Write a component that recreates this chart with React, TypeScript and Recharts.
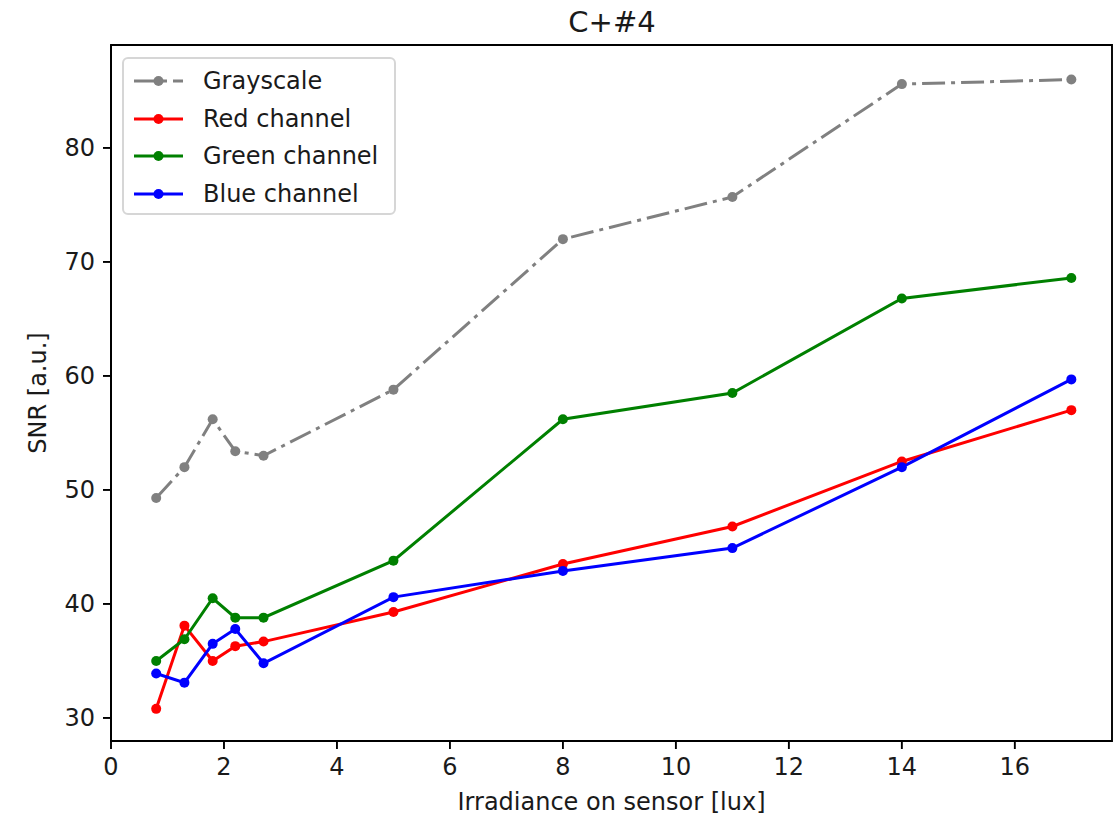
import React from 'react';
import { LineChart, Line, XAxis, YAxis, ReferenceArea } from 'recharts';

const xValues = [0.8, 1.3, 1.8, 2.2, 2.7, 5, 8, 11, 14, 17];
const grayscale = [49.3, 52.0, 56.2, 53.4, 53.0, 58.8, 72.0, 75.7, 85.6, 86.0];
const redChannel = [30.8, 38.1, 35.0, 36.3, 36.7, 39.3, 43.5, 46.8, 52.5, 57.0];
const greenChannel = [35.0, 36.9, 40.5, 38.8, 38.8, 43.8, 56.2, 58.5, 66.8, 68.6];
const blueChannel = [33.9, 33.1, 36.5, 37.8, 34.8, 40.6, 42.9, 44.9, 52.0, 59.7];

const xTicks = [0, 2, 4, 6, 8, 10, 12, 14, 16];
const yTicks = [30, 40, 50, 60, 70, 80];
const xDomain: [number, number] = [0, 17.72];
const yDomain: [number, number] = [27.98, 89.03];

const seriesInfo = [
  { key: 'gray', name: 'Grayscale', color: '#808080', dash: '23 6 4 6' },
  { key: 'red', name: 'Red channel', color: '#ff0000', dash: undefined },
  { key: 'green', name: 'Green channel', color: '#008000', dash: undefined },
  { key: 'blue', name: 'Blue channel', color: '#0000ff', dash: undefined },
];

const data = xValues.map((x, i) => ({
  x,
  gray: grayscale[i],
  red: redChannel[i],
  green: greenChannel[i],
  blue: blueChannel[i],
}));

const FONT = '"DejaVu Sans", sans-serif';
const TEXT = '#1a1a1a';

const YLabel = (props: any) => {
  const vb = props.viewBox || { x: 0, y: 45, width: 111, height: 696 };
  const cx = 38;
  const cy = vb.y + vb.height / 2;
  return (
    <text
      x={cx}
      y={cy}
      transform={`rotate(-90 ${cx} ${cy})`}
      textAnchor="middle"
      dominantBaseline="central"
      fontFamily={FONT}
      fontSize={24}
      fill={TEXT}
    >
      SNR [a.u.]
    </text>
  );
};

const XLabel = (props: any) => {
  const vb = props.viewBox || { x: 111, y: 741, width: 1001, height: 77 };
  return (
    <text
      x={vb.x + vb.width / 2}
      y={810}
      textAnchor="middle"
      fontFamily={FONT}
      fontSize={24}
      fill={TEXT}
    >
      Irradiance on sensor [lux]
    </text>
  );
};

const LegendBox = () => (
  <div
    style={{
      position: 'absolute',
      left: 122,
      top: 57,
      width: 274,
      height: 158,
      boxSizing: 'border-box',
      border: '2px solid #d6d6d6',
      borderRadius: 6,
      background: 'rgba(255,255,255,0.8)',
      fontFamily: FONT,
      fontSize: 24,
      color: TEXT,
    }}
  >
    {seriesInfo.map((s, i) => (
      <div
        key={s.key}
        style={{
          position: 'absolute',
          left: 9,
          top: 22 + i * 37.7 - 16,
          height: 32,
          display: 'flex',
          alignItems: 'center',
          whiteSpace: 'nowrap',
        }}
      >
        <svg width={50} height={32} style={{ display: 'block' }}>
          <line
            x1={1}
            y1={16}
            x2={50}
            y2={16}
            stroke={s.color}
            strokeWidth={3}
            strokeDasharray={s.dash}
          />
          <circle cx={25.5} cy={16} r={5} fill={s.color} />
        </svg>
        <span style={{ marginLeft: 20, lineHeight: '32px' }}>{s.name}</span>
      </div>
    ))}
  </div>
);

export default function App() {
  return (
    <div style={{ position: 'absolute', left: 0, top: 0, width: 1115, height: 818, background: '#fff' }}>
      <div
        style={{
          position: 'absolute',
          left: 612,
          top: 5,
          transform: 'translateX(-50%)',
          fontFamily: FONT,
          fontSize: 29,
          color: TEXT,
          whiteSpace: 'nowrap',
          lineHeight: 'normal',
        }}
      >
        C+#4
      </div>
      <LineChart
        width={1115}
        height={818}
        data={data}
        margin={{ top: 45, right: 3, bottom: 0, left: 0 }}
      >
        <XAxis
          dataKey="x"
          type="number"
          domain={xDomain}
          ticks={xTicks}
          allowDataOverflow
          height={77}
          tickSize={8}
          tickMargin={9}
          axisLine={{ stroke: '#000', strokeWidth: 1.9 }}
          tickLine={{ stroke: '#000', strokeWidth: 1.9 }}
          tick={{ fontFamily: FONT, fontSize: 24, fill: TEXT }}
          label={<XLabel />}
        />
        <YAxis
          type="number"
          domain={yDomain}
          ticks={yTicks}
          allowDataOverflow
          width={111}
          tickSize={8}
          tickMargin={8}
          axisLine={{ stroke: '#000', strokeWidth: 1.9 }}
          tickLine={{ stroke: '#000', strokeWidth: 1.9 }}
          tick={{ fontFamily: FONT, fontSize: 24, fill: TEXT }}
          label={<YLabel />}
        />
        <ReferenceArea
          x1={xDomain[0]}
          x2={xDomain[1]}
          y1={yDomain[0]}
          y2={yDomain[1]}
          fill="none"
          stroke="#000"
          strokeWidth={1.9}
          ifOverflow="extendDomain"
        />
        {seriesInfo.map((s) => (
          <Line
            key={s.key}
            dataKey={s.key}
            name={s.name}
            type="linear"
            stroke={s.color}
            strokeWidth={3}
            strokeDasharray={s.dash}
            dot={{ r: 5, fill: s.color, stroke: 'none' }}
            activeDot={false}
            isAnimationActive={false}
          />
        ))}
      </LineChart>
      <LegendBox />
    </div>
  );
}
